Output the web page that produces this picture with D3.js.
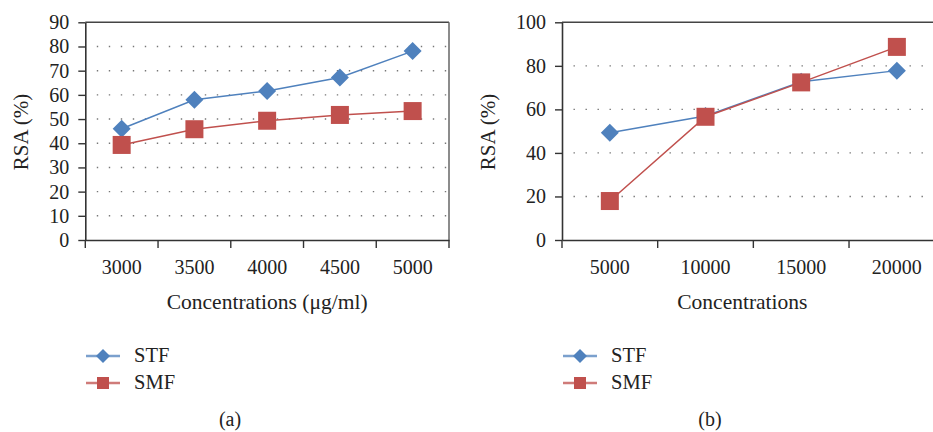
<!DOCTYPE html>
<meta charset="utf-8">
<style>
  body { margin: 0; background: #fff; }
  text { font-family: "Liberation Serif", "DejaVu Serif", serif; fill: #222; }
</style>
<script src="https://d3js.org/d3.v7.min.js"></script>
<body>
<div id="chart"></div>
<script>
// panel (a)
var concA = ["3000", "3500", "4000", "4500", "5000"];
var stfA = [46, 58, 61.6, 67.2, 78.1];
var smfA = [39.3, 45.8, 49.3, 51.7, 53.3];
var yTicksA = [0, 10, 20, 30, 40, 50, 60, 70, 80, 90];

// panel (b)
var concB = ["5000", "10000", "15000", "20000"];
var stfB = [49.3, 57, 72.7, 77.8];
var smfB = [17.9, 56.6, 72.4, 88.7];
var yTicksB = [0, 20, 40, 60, 80, 100];

var seriesNames = ["STF", "SMF"];
var blue = "#4f81bd", red = "#c0504d";
var fs = "20px";

var svg = d3.select("#chart").append("svg")
    .attr("width", 933)
    .attr("height", 432);

function panel(opt) {
  var x = d3.scaleBand().domain(opt.cats).range([opt.x0, opt.x1]);
  var y = d3.scaleLinear().domain([0, opt.ymax]).range([240, 22.3]);
  var g = svg.append("g");

  // dotted gridlines
  g.selectAll("line.grid")
    .data(opt.yticks.filter(function(d) { return d > 0 && d < opt.ymax; }))
    .enter().append("line")
      .attr("x1", opt.x0 + 11.5).attr("x2", opt.x1)
      .attr("y1", function(d) { return y(d); })
      .attr("y2", function(d) { return y(d); })
      .attr("stroke", "#777")
      .attr("stroke-width", 1.4)
      .attr("stroke-dasharray", "1.4,10.6");

  // top border + right border
  g.append("line").attr("x1", opt.x0).attr("x2", opt.x1)
    .attr("y1", y(opt.ymax)).attr("y2", y(opt.ymax))
    .attr("stroke", "#444").attr("stroke-width", 1.5);
  g.append("line").attr("x1", opt.x1).attr("x2", opt.x1)
    .attr("y1", y(opt.ymax)).attr("y2", y(0))
    .attr("stroke", "#666").attr("stroke-width", 1.5);

  // y axis
  var ya = g.append("g")
    .attr("transform", "translate(" + opt.x0 + ",0)")
    .call(d3.axisLeft(y).tickValues(opt.yticks).tickSize(7).tickSizeOuter(0).tickPadding(9));
  ya.select(".domain").attr("stroke", "#333").attr("stroke-width", 1.6);
  ya.selectAll(".tick line").attr("stroke", "#333").attr("stroke-width", 1.4);
  ya.selectAll("text").style("font-size", fs).attr("fill", "#222")
    .style("font-family", "'Liberation Serif', serif");

  // x axis with ticks on band edges
  var xa = g.append("g")
    .attr("transform", "translate(0,240)")
    .call(d3.axisBottom(x).tickSize(0).tickSizeOuter(0).tickPadding(20));
  xa.select(".domain").attr("stroke", "#333").attr("stroke-width", 1.6);
  xa.selectAll("text").style("font-size", fs).attr("fill", "#222")
    .style("font-family", "'Liberation Serif', serif");
  var edges = opt.cats.map(function(c) { return x(c); }).concat([x.range()[1]]);
  g.selectAll("line.xt").data(edges).enter().append("line")
    .attr("x1", function(d) { return d; }).attr("x2", function(d) { return d; })
    .attr("y1", 240).attr("y2", 248)
    .attr("stroke", "#333").attr("stroke-width", 1.4);

  // axis titles
  g.append("text")
    .attr("x", (opt.x0 + opt.x1) / 2 + opt.titleShift).attr("y", 309)
    .attr("text-anchor", "middle").style("font-size", "21.5px")
    .text(opt.xtitle);
  g.append("text")
    .attr("transform", "translate(" + opt.ylabX + ",132) rotate(-90)")
    .attr("text-anchor", "middle").style("font-size", "21px")
    .text("RSA (%)");

  // series
  var cx = function(d, i) { return x(opt.cats[i]) + x.bandwidth() / 2; };
  var line = d3.line().x(cx).y(function(d) { return y(d); });
  g.append("path").datum(opt.stf).attr("d", line)
    .attr("fill", "none").attr("stroke", blue).attr("stroke-width", 1.5);
  g.append("path").datum(opt.smf).attr("d", line)
    .attr("fill", "none").attr("stroke", red).attr("stroke-width", 1.5);

  g.selectAll("path.dia").data(opt.stf).enter().append("path")
    .attr("transform", function(d, i) { return "translate(" + cx(d, i) + "," + y(d) + ")"; })
    .attr("d", "M0,-9L9,0L0,9L-9,0Z")
    .attr("fill", blue);
  g.selectAll("rect.sq").data(opt.smf).enter().append("rect")
    .attr("x", function(d, i) { return cx(d, i) - 9; })
    .attr("y", function(d) { return y(d) - 9; })
    .attr("width", 18).attr("height", 18)
    .attr("fill", red);

  // legend
  var lg = g.append("g");
  [0, 1].forEach(function(k) {
    var ly = k === 0 ? 356 : 383;
    var col = k === 0 ? blue : red;
    lg.append("line").attr("x1", opt.legX).attr("x2", opt.legX + 34)
      .attr("y1", ly).attr("y2", ly)
      .attr("stroke", col).attr("stroke-width", 2.5).attr("opacity", 0.75);
    if (k === 0) {
      lg.append("path").attr("transform", "translate(" + (opt.legX + 17) + "," + ly + ")")
        .attr("d", "M0,-7L7,0L0,7L-7,0Z").attr("fill", col);
    } else {
      lg.append("rect").attr("x", opt.legX + 11).attr("y", ly - 6)
        .attr("width", 12).attr("height", 12).attr("fill", col);
    }
    lg.append("text").attr("x", opt.legX + 48).attr("y", ly + 6)
      .style("font-size", "20.5px").text(seriesNames[k]);
  });

  // caption
  g.append("text").attr("x", opt.capX).attr("y", 426)
    .attr("text-anchor", "middle").style("font-size", fs)
    .text(opt.caption);
}

panel({cats: concA, stf: stfA, smf: smfA, yticks: yTicksA, ymax: 90,
       x0: 85.3, x1: 449, xtitle: "Concentrations (\u03bcg/ml)", titleShift: 0,
       ylabX: 28, legX: 86, capX: 230, caption: "(a)"});
panel({cats: concB, stf: stfB, smf: smfB, yticks: yTicksB, ymax: 100,
       x0: 562, x1: 944.7, xtitle: "Concentrations", titleShift: -11,
       ylabX: 495, legX: 563, capX: 710, caption: "(b)"});
</script>
</body>
